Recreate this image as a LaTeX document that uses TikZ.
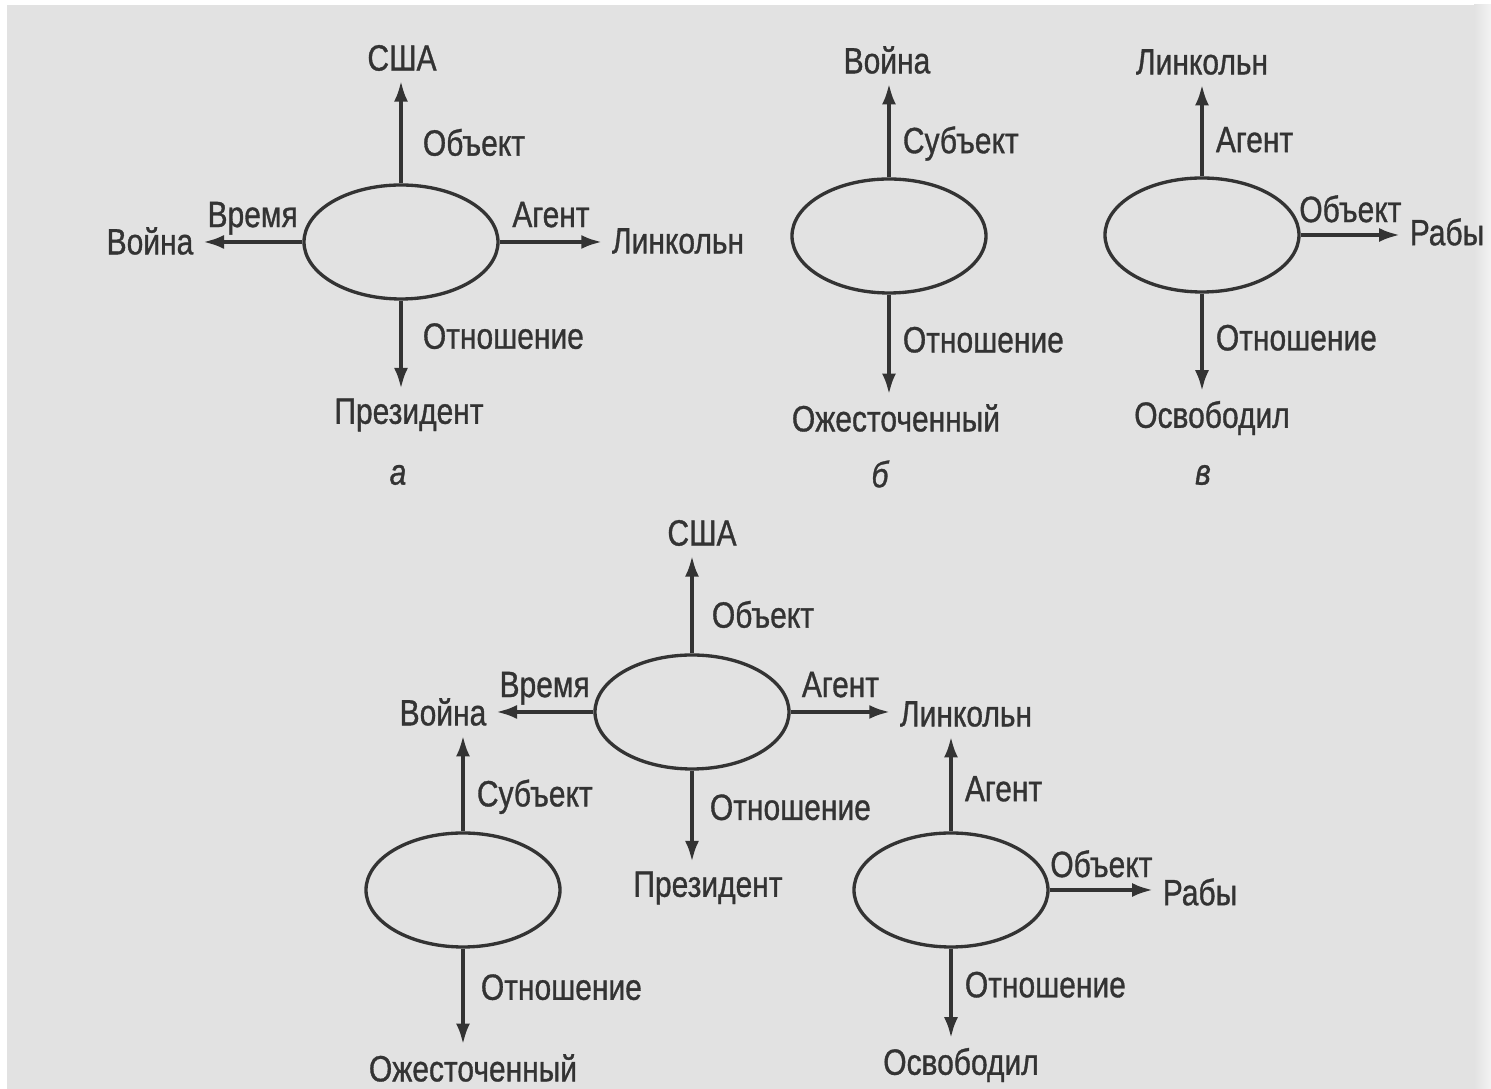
\documentclass[tikz,border=0pt]{standalone}
\usepackage{fontspec}
\setmainfont{Liberation Sans}[FakeStretch=0.82,FakeBold=0.9]
\usepackage{tikz}
\usetikzlibrary{arrows.meta}
\usetikzlibrary{positioning}
\usetikzlibrary{shapes.geometric}
\definecolor{ink}{gray}{0.2}
\definecolor{paper}{gray}{0.885}
\tikzset{
frame/.style={shape=ellipse, draw=ink, line width=0.95pt, minimum width=1.94cm, minimum height=1.14cm, inner sep=0pt},
word/.style={text=ink, inner sep=0.9mm, font=\fontsize{10.4pt}{12pt}\selectfont},
role/.style={text=ink, inner sep=0pt, text depth=0pt, font=\fontsize{10.4pt}{12pt}\selectfont},
tag/.style={text=ink, font=\fontsize{10.4pt}{12pt}\selectfont\itshape},
rel/.style={draw=ink, line width=1.1pt, -{Latex[length=2.1mm,width=1.4mm]}}}

\begin{document}
\begin{tikzpicture}

                \useasboundingbox (0,0) rectangle (14.91,-10.89);
                \fill[white] (0,0) rectangle (14.91,-10.89);
                \fill[paper] (0.07,-0.05) rectangle (14.75,-10.89);
                \shade[left color=paper, right color=paper!40!white] (14.74,-0.05) rectangle (14.91,-10.89);

                % a
                \node[frame] (Ea) at (4.01,-2.42) {};
                \node[word] (USAa) at (4.02,-0.58) {США};
                \node[word] (WarA) at (1.50,-2.41) {Война};
                \node[word] (LinA) at (6.78,-2.41) {Линкольн};
                \node[word] (PresA) at (4.09,-4.15) {Президент};
                \node[tag] (TagA) at (3.98,-4.75) {а};

                \draw[rel] (Ea.north) -- (Ea.north |- USAa.south) node[role, pos=.4, right=2mm] {Объект};
                \draw[rel] (Ea.west) -- (WarA.east |- Ea.west) node[role, midway, above=1.3mm] {Время};
                \draw[rel] (Ea.east) -- (LinA.west |- Ea.east) node[role, midway, above=1.3mm] {Агент};
                \draw[rel] (Ea.south) -- (Ea.south |- PresA.north) node[role, pos=.4, right=2mm] {Отношение};

                % b
                \node[frame] (Eb) at (8.89,-2.36) {};
                \node[word] (WarB) at (8.87,-0.60) {Война};
                \node[word] (OzhB) at (8.96,-4.18) {Ожесточенный};
                \node[tag] (TagB) at (8.80,-4.74) {б};

                \draw[rel] (Eb.north) -- (Eb.north |- WarB.south) node[role, pos=.4, right=1.2mm] {Субъект};
                \draw[rel] (Eb.south) -- (Eb.south |- OzhB.north) node[role, pos=.45, right=1.2mm] {Отношение};

                % v
                \node[frame] (Ev) at (12.02,-2.35) {};
                \node[word] (LinV) at (12.02,-0.62) {Линкольн};
                \node[word] (RabV) at (14.47,-2.32) {Рабы};
                \node[word] (OsvV) at (12.12,-4.18) {Освободил};
                \node[tag] (TagV) at (12.03,-4.75) {в};

                \draw[rel] (Ev.north) -- (Ev.north |- LinV.south) node[role, pos=.4, right=1.2mm] {Агент};
                \draw[rel] (Ev.east) -- (RabV.west |- Ev.east) node[role, midway, above=1.1mm] {Объект};
                \draw[rel] (Ev.south) -- (Ev.south |- OsvV.north) node[role, pos=.45, right=1.2mm] {Отношение};

                % joined
                \node[frame] (Ec) at (6.92,-7.12) {};
                \node[frame] (El) at (4.63,-8.90) {};
                \node[frame] (Er) at (9.51,-8.90) {};
                \node[word] (USAc) at (7.02,-5.33) {США};
                \node[word] (WarC) at (4.43,-7.12) {Война};
                \node[word] (LinC) at (9.66,-7.14) {Линкольн};
                \node[word] (PresC) at (7.08,-8.88) {Президент};
                \node[word] (OzhC) at (4.73,-10.68) {Ожесточенный};
                \node[word] (RabC) at (12.00,-8.92) {Рабы};
                \node[word] (OsvC) at (9.61,-10.65) {Освободил};

                \draw[rel] (Ec.north) -- (Ec.north |- USAc.south) node[role, pos=.4, right=1.8mm] {Объект};
                \draw[rel] (Ec.west) -- (WarC.east |- Ec.west) node[role, midway, above=1.3mm] {Время};
                \draw[rel] (Ec.east) -- (LinC.west |- Ec.east) node[role, midway, above=1.3mm] {Агент};
                \draw[rel] (Ec.south) -- (Ec.south |- PresC.north) node[role, pos=.4, right=1.6mm] {Отношение};

                \draw[rel] (El.north) -- (El.north |- WarC.south) node[role, pos=.4, right=1.2mm] {Субъект};
                \draw[rel] (El.south) -- (El.south |- OzhC.north) node[role, pos=.4, right=1.6mm] {Отношение};

                \draw[rel] (Er.north) -- (Er.north |- LinC.south) node[role, pos=.45, right=1.2mm] {Агент};
                \draw[rel] (Er.east) -- (RabC.west |- Er.east) node[role, midway, above=1.1mm] {Объект};
                \draw[rel] (Er.south) -- (Er.south |- OsvC.north) node[role, pos=.4, right=1.2mm] {Отношение};

\end{tikzpicture}
\end{document}
